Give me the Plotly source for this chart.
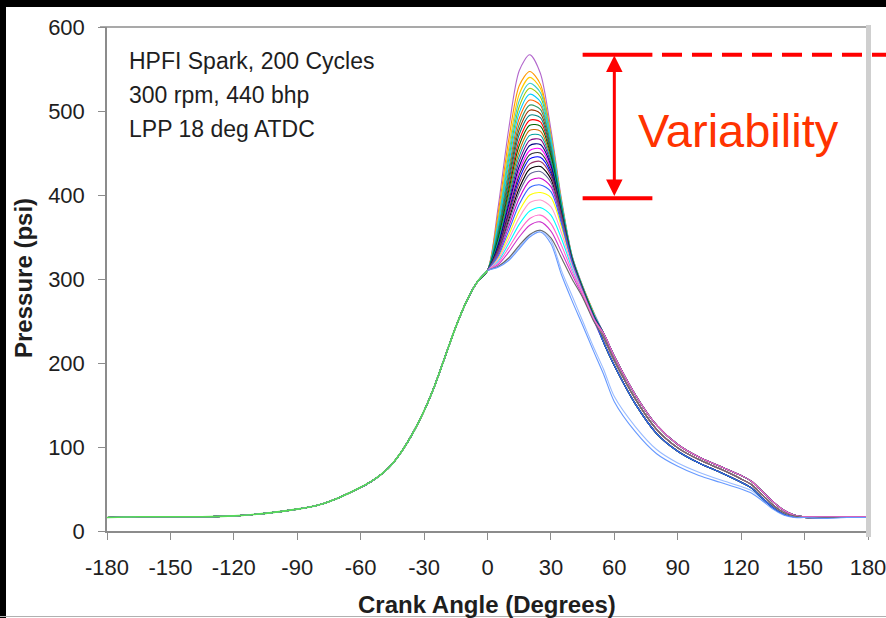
import plotly.graph_objects as go

# ---------------- data ----------------
# shared compression part (all cycles coincide before TDC)
pre_angle = [-180, -165, -150, -135, -120, -105, -90, -80, -70, -60, -55, -50, -45,
             -40, -35, -30, -25, -20, -15, -10, -5]
pre_psi = [16, 17, 17, 17, 18, 21, 26, 31, 40, 52, 59, 68, 80,
           97, 118, 143, 173, 208, 243, 273, 296]

# combustion part, one row per plotted cycle
comb_angle = [0, 5, 10, 15, 20, 25, 30, 35, 40, 45, 50]
cycle_psi = [
    [310, 385, 478, 548, 567, 545, 478, 395, 328, 292, 262],
    [310, 378, 465, 530, 547, 532, 472, 392, 327, 291, 261],
    [310, 372, 455, 520, 540, 527, 470, 392, 327, 291, 261],
    [310, 368, 448, 512, 533, 522, 468, 391, 327, 291, 260],
    [310, 365, 442, 505, 527, 517, 465, 390, 326, 290, 260],
    [310, 362, 436, 498, 520, 511, 462, 389, 326, 290, 260],
    [310, 360, 430, 491, 513, 507, 460, 388, 326, 290, 259],
    [310, 357, 425, 484, 507, 502, 458, 387, 325, 290, 259],
    [310, 355, 420, 478, 501, 497, 455, 386, 325, 289, 259],
    [310, 352, 415, 472, 495, 492, 452, 385, 325, 289, 258],
    [310, 350, 410, 465, 489, 487, 450, 384, 324, 289, 258],
    [310, 348, 405, 459, 483, 482, 447, 383, 324, 289, 258],
    [310, 346, 400, 452, 477, 476, 444, 382, 324, 288, 258],
    [310, 344, 396, 446, 471, 471, 441, 381, 323, 288, 257],
    [310, 342, 392, 440, 465, 466, 438, 380, 323, 288, 257],
    [310, 340, 388, 434, 459, 460, 435, 379, 323, 288, 257],
    [310, 338, 384, 429, 453, 455, 432, 378, 322, 287, 257],
    [310, 336, 380, 424, 448, 450, 429, 377, 322, 287, 256],
    [310, 335, 377, 419, 443, 445, 426, 376, 322, 287, 256],
    [310, 334, 374, 414, 437, 440, 423, 375, 321, 287, 256],
    [310, 332, 370, 408, 431, 434, 419, 373, 321, 286, 256],
    [310, 331, 367, 403, 425, 428, 415, 371, 320, 286, 255],
    [310, 329, 362, 396, 417, 420, 410, 369, 320, 286, 255],
    [310, 327, 357, 389, 409, 412, 404, 366, 319, 285, 255],
    [310, 325, 352, 381, 400, 403, 397, 362, 318, 285, 254],
    [310, 323, 347, 373, 391, 394, 386, 355, 316, 284, 254],
    [310, 321, 342, 365, 381, 385, 376, 348, 313, 283, 253],
    [310, 319, 337, 357, 372, 376, 366, 340, 309, 282, 253],
    [310, 317, 332, 350, 364, 368, 357, 332, 305, 280, 252],
    [310, 315, 325, 340, 353, 358, 349, 325, 300, 278, 251],
    [310, 315, 324, 338, 352, 358, 346, 310, 280, 250, 220],
    [310, 314, 322, 336, 350, 356, 342, 305, 274, 245, 215],
]

# expansion / exhaust part, a few distinct traces
tail_angle = [55, 60, 70, 80, 90, 100, 110, 120, 125, 130, 135, 140, 145, 150, 160, 170, 180]
tail_psi = {
    "hi":    [235, 208, 162, 126, 103, 88, 77, 66, 59, 47, 35, 25, 19, 17, 17, 17, 17],
    "mid":   [230, 203, 157, 121, 99, 85, 74, 62, 55, 43, 31, 22, 18, 16, 16, 16, 16],
    "lo":    [224, 197, 151, 116, 95, 81, 70, 58, 51, 39, 28, 20, 17, 16, 16, 16, 16],
    "blue2": [192, 160, 124, 97, 81, 70, 61, 53, 48, 38, 28, 20, 17, 16, 16, 16, 16],
    "blue":  [186, 154, 118, 92, 77, 66, 58, 50, 45, 36, 26, 19, 16, 16, 15, 16, 16],
}
cycle_tail = ["hi", "mid", "lo", "hi", "mid", "lo", "hi", "mid", "lo", "hi", "mid",
              "lo", "hi", "mid", "lo", "hi", "mid", "lo", "hi", "mid", "lo", "hi",
              "mid", "lo", "hi", "mid", "lo", "hi", "lo", "mid", "blue2", "blue"]
cycle_color = ["#B266CC", "#FF9900", "#FFCC00", "#33CCCC", "#99CC00", "#00CCFF",
               "#FF6600", "#339966", "#993300", "#008080", "#FF0000", "#006600",
               "#CC6600", "#00A0A0", "#800080", "#000080", "#FF00FF", "#333333",
               "#0000FF", "#993366", "#000000", "#666699", "#CC00CC", "#3366FF",
               "#FFFF00", "#FF99CC", "#00FFFF", "#FF66CC", "#CC33CC", "#666666",
               "#99BBFF", "#6699FF"]

x_ticks = [-180, -150, -120, -90, -60, -30, 0, 30, 60, 90, 120, 150, 180]
y_ticks = [0, 100, 200, 300, 400, 500, 600]

VAR_TOP = 567
VAR_BOTTOM = 396

info_lines = ["HPFI Spark, 200 Cycles", "300 rpm, 440 bhp", "LPP 18 deg ATDC"]

# ---------------- figure ----------------
W, H = 886, 618
def px(x):
    return x / W
def py(y):
    return 1 - y / H

FONT = "Liberation Sans, Arial, sans-serif"

fig = go.Figure()
draw_order = [0, 2, 4, 6, 8, 10, 12, 14, 16, 18, 20, 22, 24, 26, 28, 30,
              1, 3, 5, 7, 9, 11, 13, 15, 17, 19, 21, 23, 25, 27, 29, 31]
for i in draw_order:
    xs = pre_angle + comb_angle + tail_angle
    ys = pre_psi + cycle_psi[i] + tail_psi[cycle_tail[i]]
    fig.add_trace(go.Scatter(x=xs, y=ys, mode="lines",
                             line=dict(color=cycle_color[i], width=1.1, shape="spline", smoothing=0.8),
                             hoverinfo="skip", showlegend=False))

# compression part is drawn last, in green, as in the reference
fig.add_trace(go.Scatter(x=pre_angle + [0], y=pre_psi + [310], mode="lines",
                         line=dict(color="#55DD55", width=1.6, shape="spline", smoothing=0.8),
                         hoverinfo="skip", showlegend=False))

axis_common = dict(showgrid=False, zeroline=False, showline=True, linecolor="#8c8c8c",
                   linewidth=1.5, ticks="outside", ticklen=7, tickcolor="#8c8c8c",
                   tickwidth=1.2, automargin=False, ticklabeloverflow="allow",
                   tickfont=dict(family=FONT, size=22, color="#1e1e1e"))

fig.update_layout(
    width=W, height=H,
    margin=dict(l=0, r=0, t=0, b=0, pad=0, autoexpand=False),
    paper_bgcolor="white", plot_bgcolor="white",
    xaxis=dict(domain=[px(107), px(868)], range=[-180, 180], tickvals=x_ticks,
               ticktext=[str(v) for v in x_ticks], ticklabelstandoff=9, **axis_common),
    yaxis=dict(domain=[py(531), py(27)], range=[0, 600], tickvals=y_ticks,
               ticklabelstandoff=9, **axis_common),
)

shapes = []
# black frame bits of the photo
shapes.append(dict(type="rect", xref="paper", yref="paper", x0=-0.01, x1=1.01, y0=py(7), y1=1.01,
                   fillcolor="black", line=dict(width=0), layer="above"))
shapes.append(dict(type="rect", xref="paper", yref="paper", x0=-0.01, x1=px(6), y0=-0.01, y1=1.01,
                   fillcolor="black", line=dict(width=0), layer="above"))
shapes.append(dict(type="line", xref="paper", yref="paper", x0=0, x1=1, y0=py(616.5), y1=py(616.5),
                   line=dict(color="#b0b0b0", width=1)))
# top and right plot frame
shapes.append(dict(type="line", xref="paper", yref="paper", x0=px(100), x1=px(868), y0=py(27), y1=py(27),
                   line=dict(color="#8c8c8c", width=1.5)))
shapes.append(dict(type="line", xref="paper", yref="paper", x0=px(868.5), x1=px(868.5), y0=py(537), y1=py(25),
                   line=dict(color="#cfcfcf", width=5)))
# variability marker
shapes.append(dict(type="line", xref="x", yref="y", x0=45, x1=78, y0=VAR_TOP, y1=VAR_TOP,
                   line=dict(color="#FF0000", width=4)))
shapes.append(dict(type="line", xref="x", yref="y", x0=45, x1=78, y0=VAR_BOTTOM, y1=VAR_BOTTOM,
                   line=dict(color="#FF0000", width=4)))
shapes.append(dict(type="line", xref="paper", yref="y", x0=px(662), x1=1.0, y0=VAR_TOP, y1=VAR_TOP,
                   line=dict(color="#FF0000", width=4, dash="20px,10px")))
fig.update_layout(shapes=shapes)

annotations = []
for k, t in enumerate(info_lines):
    annotations.append(dict(text=t, xref="paper", yref="paper", x=px(127), y=py(61 + 34 * k),
                            xanchor="left", yanchor="middle", showarrow=False,
                            font=dict(family=FONT, size=23, color="#1e1e1e")))
annotations.append(dict(text="Variability", xref="paper", yref="paper", x=px(636), y=py(130),
                        xanchor="left", yanchor="middle", showarrow=False,
                        font=dict(family=FONT, size=47, color="#FF3300")))
annotations.append(dict(text="<b>Crank Angle (Degrees)</b>", xref="paper", yref="paper",
                        x=px(487), y=py(604), xanchor="center", yanchor="middle", showarrow=False,
                        font=dict(family=FONT, size=24, color="#1e1e1e")))
annotations.append(dict(text="<b>Pressure (psi)</b>", xref="paper", yref="paper",
                        x=px(23), y=py(278), xanchor="center", yanchor="middle", showarrow=False,
                        textangle=-90, font=dict(family=FONT, size=24, color="#1e1e1e")))
annotations.append(dict(text="", x=60, y=VAR_TOP - 1, ax=60, ay=VAR_BOTTOM + 1,
                        xref="x", yref="y", axref="x", ayref="y", showarrow=True,
                        arrowhead=2, startarrowhead=2, arrowside="end+start",
                        arrowsize=1.1, startarrowsize=1.1, arrowwidth=3, arrowcolor="#FF0000"))
fig.update_layout(annotations=annotations)

fig.write_html("out.html",
               config={"displayModeBar": False},
               post_script="document.body.style.margin='0px';"
                           "document.body.style.overflow='hidden';")
